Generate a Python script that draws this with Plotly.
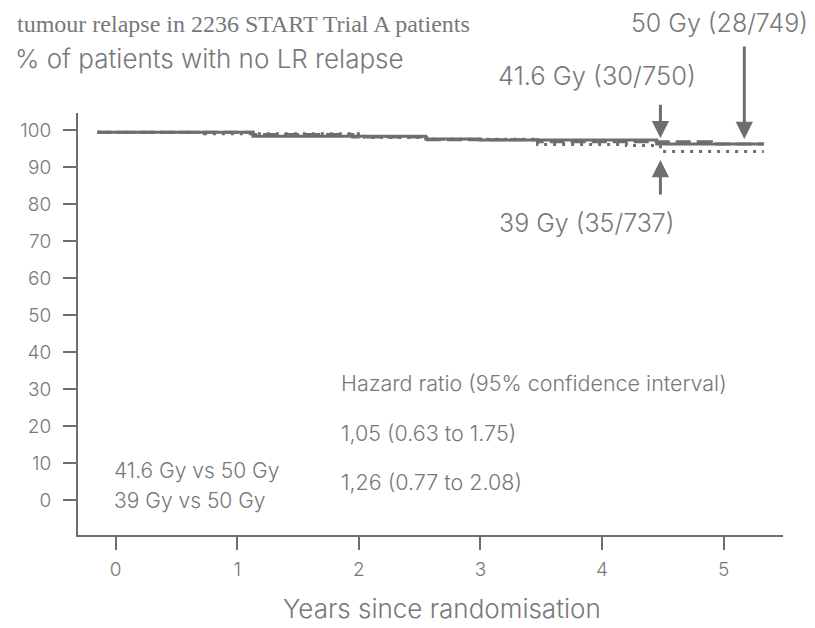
import plotly.graph_objects as go

# ---- data ----
years_50 = [-0.15, 1.13, 2.55, 3.0, 4.45, 5.33]
surv_50 = [99.4, 98.3, 97.6, 97.3, 96.2, 96.2]

years_416 = [-0.15, 1.13, 1.95, 2.55, 3.47, 4.9, 5.33]
surv_416 = [99.4, 98.8, 98.1, 97.4, 96.8, 96.2, 96.2]

years_39 = [-0.15, 0.73, 2.05, 2.6, 3.47, 4.2, 4.48, 5.33]
surv_39 = [99.4, 99.0, 98.0, 97.5, 96.1, 95.8, 94.2, 94.2]

x_ticks = [0, 1, 2, 3, 4, 5]
y_ticks = [0, 10, 20, 30, 40, 50, 60, 70, 80, 90, 100]

labels = ["50 Gy (28/749)", "41.6 Gy (30/750)", "39 Gy (35/737)"]
comparisons = ["41.6 Gy vs 50 Gy", "39 Gy vs 50 Gy"]
hazard_header = "Hazard ratio (95% confidence interval)"
hazard_values = ["1,05 (0.63 to 1.75)", "1,26 (0.77 to 2.08)"]

LINE = "#6d6e71"
TEXT = "#77787b"
FONT = "Inter"
WT = 300

# page has an 8px body margin: figure sized/offset so screen coords match
OFF = 8
W, H = 807, 620
L, R, T, B = 62, 32, 105, 93


def fx(xs):
    return (xs - OFF - L) / (W - L - R)


def fy(ys):
    return (H - B - (ys - OFF)) / (H - T - B)


fig = go.Figure()
fig.add_trace(go.Scatter(x=years_50, y=surv_50, mode="lines", line_shape="hv",
                         line=dict(color=LINE, width=3), name=labels[0]))
fig.add_trace(go.Scatter(x=years_416, y=surv_416, mode="lines", line_shape="hv",
                         line=dict(color=LINE, width=3, dash="15px,6px"), name=labels[1]))
fig.add_trace(go.Scatter(x=years_39, y=surv_39, mode="lines", line_shape="hv",
                         line=dict(color=LINE, width=3, dash="3px,6px"), name=labels[2]))

ann = []


def text(s, x, y, size, anchor="left", family=FONT, color=TEXT, weight=WT):
    ann.append(dict(text=s, x=fx(x), y=fy(y), xref="paper", yref="paper",
                    xanchor=anchor, yanchor="middle", showarrow=False,
                    font=dict(family=family, size=size, color=color, weight=weight)))


text("tumour relapse in 2236 START Trial A patients", 6, 24, 24,
     family="Liberation Serif", weight=400)
text("% of patients with no LR relapse", 4, 58, 26)
text(labels[0], 810, 23, 25, anchor="right")
text(labels[1], 493, 76, 25.5)
text(labels[2], 494, 223, 25)
text(hazard_header, 334, 383, 21.5)
text(hazard_values[0], 334, 433, 21.5)
text(hazard_values[1], 334, 482, 21.5)
text(comparisons[0], 104, 470, 21)
text(comparisons[1], 104, 500, 21)
text("Years since randomisation", 438, 608, 26, anchor="center")

# arrows (tip position in data coords, tail offset in px)
for xa, ya, ay in [(4.48, 97.8, -35), (5.17, 97.6, -94), (4.48, 91.9, 36)]:
    ann.append(dict(x=xa, y=ya, xref="x", yref="y", text="", showarrow=True,
                    ax=0, ay=ay, arrowhead=2, arrowsize=1.15, arrowwidth=3,
                    arrowcolor=LINE, standoff=0))

fig.update_layout(
    width=W, height=H, autosize=False,
    margin=dict(l=L, r=R, t=T, b=B, pad=0),
    paper_bgcolor="white", plot_bgcolor="white",
    showlegend=False,
    font=dict(family=FONT, size=19, color=TEXT, weight=WT),
    annotations=ann,
)
fig.update_xaxes(range=[-0.309, 5.488], tickvals=x_ticks, ticktext=[str(v) for v in x_ticks],
                 showgrid=False, zeroline=False, showline=True, linecolor=LINE, linewidth=2,
                 ticks="outside", ticklen=13, tickwidth=2, tickcolor=LINE,
                 ticklabelstandoff=3,
                 tickfont=dict(family=FONT, size=19, color=TEXT, weight=WT))
fig.update_yaxes(range=[-9.46, 104.6], tickvals=y_ticks, ticktext=[str(v) for v in y_ticks],
                 showgrid=False, zeroline=False, showline=True, linecolor=LINE, linewidth=2,
                 ticks="outside", ticklen=13, tickwidth=2, tickcolor=LINE,
                 ticklabelstandoff=8,
                 tickfont=dict(family=FONT, size=19, color=TEXT, weight=WT))

fig.write_html("out.html")
